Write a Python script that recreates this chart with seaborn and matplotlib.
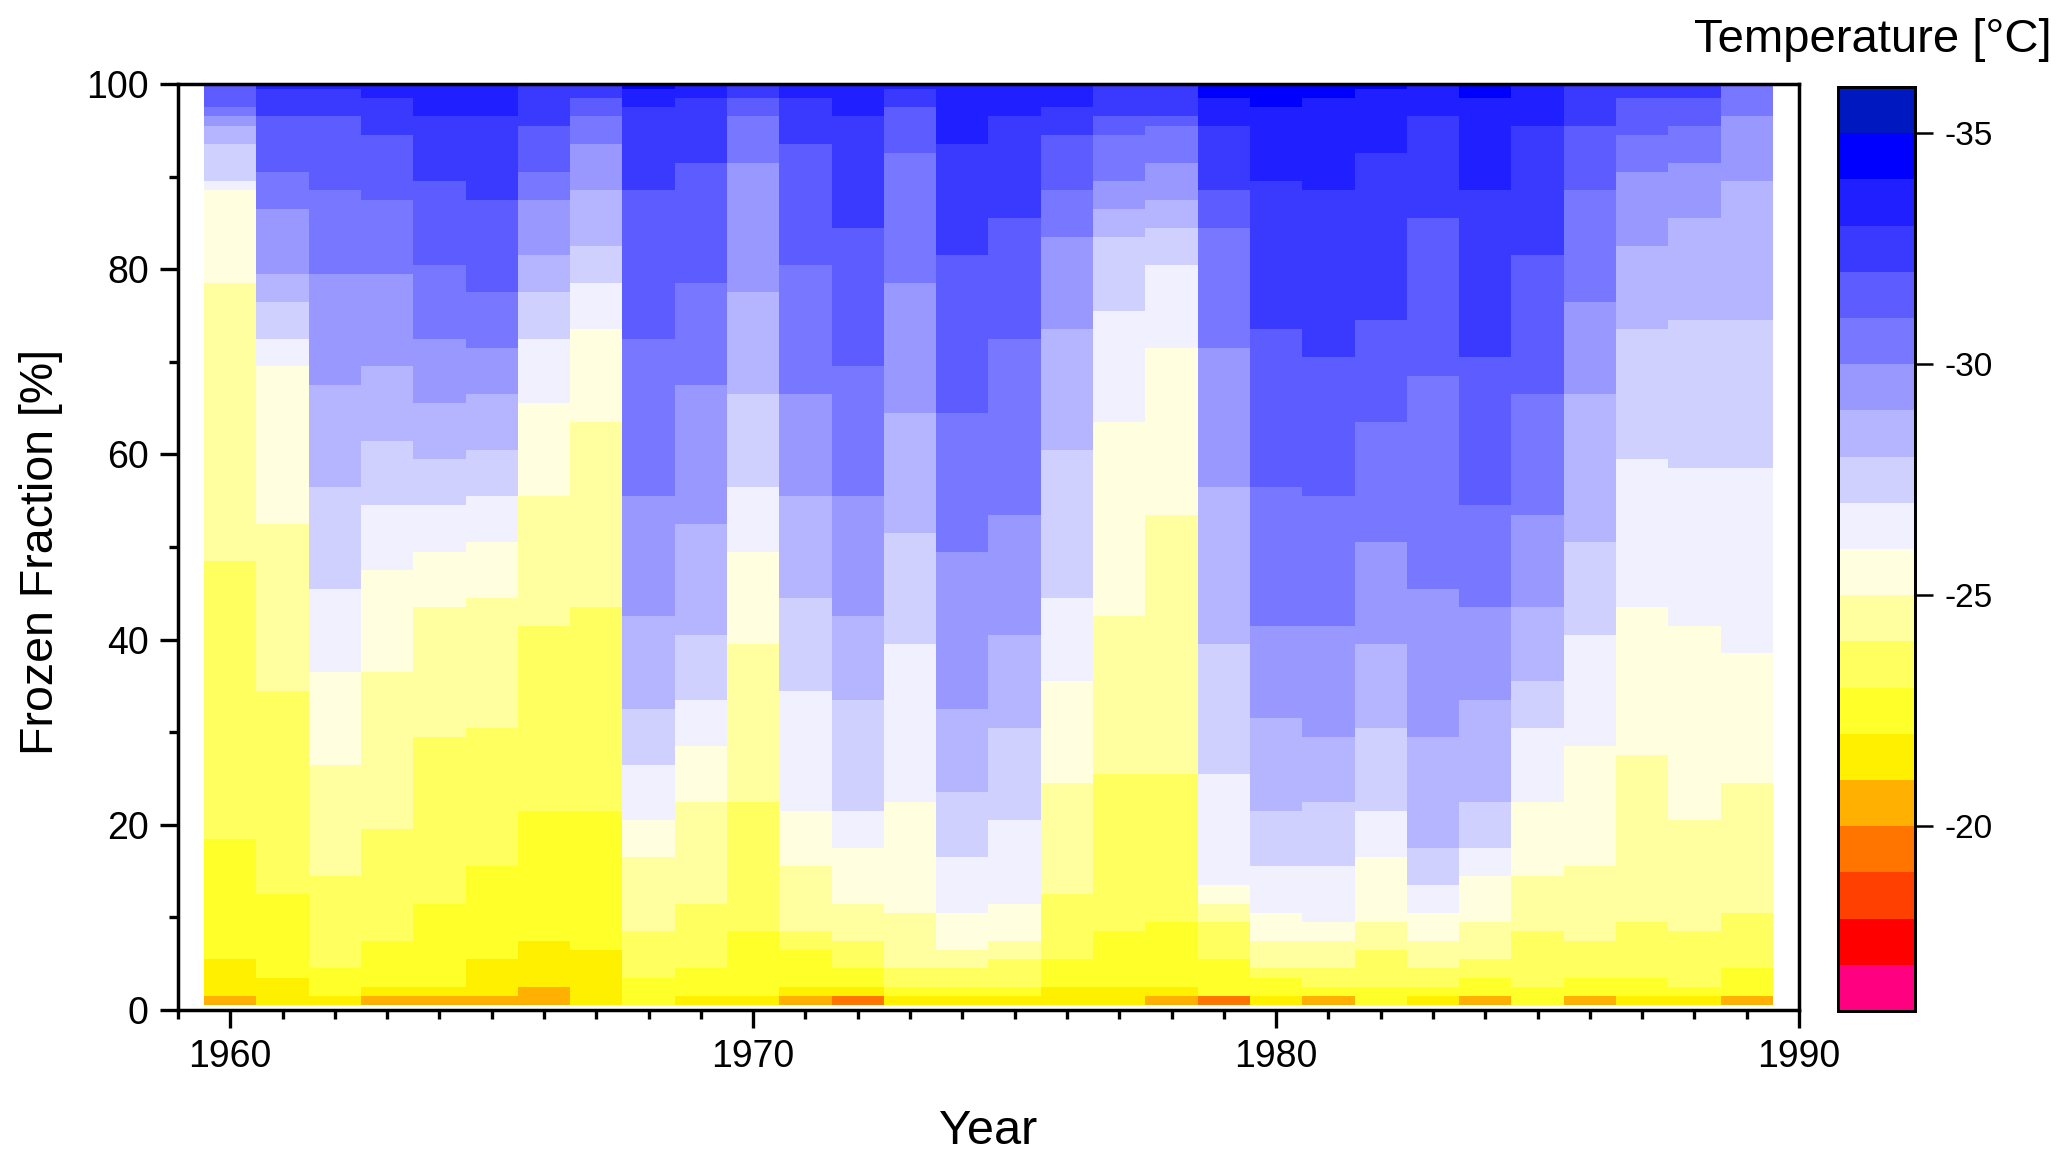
import numpy as np
import pandas as pd
import matplotlib
matplotlib.use('Agg')
import matplotlib.pyplot as plt
from matplotlib.colors import ListedColormap
from matplotlib.ticker import FixedLocator
import seaborn as sns

years = list(range(1960, 1990))
fractions = list(range(1, 101))

# frozen fraction [%] at which each year crosses -35, -34, ... -20 degC
tops_1960 = [100, 100, 100, 100, 97.5, 96.5, 95.5, 93.5, 89.5, 88.5, 78.5, 48.5, 18.5, 5.5, 1.5, 0.5]
tops_1961 = [100, 100, 99.5, 96.5, 90.5, 86.5, 79.5, 76.5, 72.5, 69.5, 52.5, 34.5, 12.5, 3.5, 0.5, 0.5]
tops_1962 = [100, 100, 99.5, 96.5, 88.5, 79.5, 67.5, 56.5, 45.5, 36.5, 26.5, 14.5, 4.5, 1.5, 0.5, 0.5]
tops_1963 = [100, 100, 98.5, 94.5, 87.5, 79.5, 69.5, 61.5, 54.5, 47.5, 36.5, 19.5, 7.5, 2.5, 1.5, 0.5]
tops_1964 = [100, 100, 96.5, 89.5, 80.5, 72.5, 65.5, 59.5, 54.5, 49.5, 43.5, 29.5, 11.5, 2.5, 1.5, 0.5]
tops_1965 = [100, 100, 96.5, 87.5, 77.5, 71.5, 66.5, 60.5, 55.5, 50.5, 44.5, 30.5, 15.5, 5.5, 1.5, 0.5]
tops_1966 = [100, 100, 100, 95.5, 90.5, 87.5, 81.5, 77.5, 72.5, 65.5, 55.5, 41.5, 21.5, 7.5, 2.5, 0.5]
tops_1967 = [100, 100, 100, 98.5, 96.5, 93.5, 88.5, 82.5, 78.5, 73.5, 63.5, 43.5, 21.5, 6.5, 0.5, 0.5]
tops_1968 = [100, 99.5, 97.5, 88.5, 72.5, 55.5, 42.5, 32.5, 26.5, 20.5, 16.5, 8.5, 3.5, 0.5, 0.5, 0.5]
tops_1969 = [100, 100, 98.5, 91.5, 78.5, 67.5, 52.5, 40.5, 33.5, 28.5, 22.5, 11.5, 4.5, 1.5, 0.5, 0.5]
tops_1970 = [100, 100, 100, 98.5, 96.5, 91.5, 77.5, 66.5, 56.5, 49.5, 39.5, 22.5, 8.5, 1.5, 0.5, 0.5]
tops_1971 = [100, 100, 98.5, 93.5, 80.5, 66.5, 55.5, 44.5, 34.5, 21.5, 15.5, 8.5, 6.5, 2.5, 1.5, 0.5]
tops_1972 = [100, 100, 96.5, 84.5, 69.5, 55.5, 42.5, 33.5, 21.5, 17.5, 11.5, 7.5, 4.5, 2.5, 1.5, 1.5]
tops_1973 = [100, 100, 99.5, 97.5, 92.5, 78.5, 64.5, 51.5, 39.5, 22.5, 10.5, 4.5, 2.5, 1.5, 0.5, 0.5]
tops_1974 = [100, 100, 93.5, 81.5, 64.5, 49.5, 32.5, 23.5, 16.5, 10.5, 6.5, 4.5, 2.5, 1.5, 0.5, 0.5]
tops_1975 = [100, 100, 96.5, 85.5, 72.5, 53.5, 40.5, 30.5, 20.5, 11.5, 7.5, 5.5, 2.5, 1.5, 0.5, 0.5]
tops_1976 = [100, 100, 97.5, 94.5, 88.5, 83.5, 73.5, 60.5, 44.5, 35.5, 24.5, 12.5, 5.5, 2.5, 0.5, 0.5]
tops_1977 = [100, 100, 100, 96.5, 94.5, 89.5, 86.5, 83.5, 75.5, 63.5, 42.5, 25.5, 8.5, 2.5, 0.5, 0.5]
tops_1978 = [100, 100, 100, 96.5, 95.5, 91.5, 87.5, 84.5, 80.5, 71.5, 53.5, 25.5, 9.5, 2.5, 1.5, 0.5]
tops_1979 = [100, 98.5, 95.5, 88.5, 84.5, 71.5, 56.5, 39.5, 25.5, 13.5, 11.5, 9.5, 5.5, 1.5, 1.5, 1.5]
tops_1980 = [100, 97.5, 89.5, 73.5, 56.5, 41.5, 31.5, 21.5, 15.5, 10.5, 7.5, 4.5, 3.5, 1.5, 0.5, 0.5]
tops_1981 = [100, 98.5, 88.5, 70.5, 55.5, 41.5, 29.5, 22.5, 15.5, 9.5, 7.5, 4.5, 2.5, 1.5, 1.5, 0.5]
tops_1982 = [100, 99.5, 92.5, 74.5, 63.5, 50.5, 39.5, 30.5, 21.5, 16.5, 9.5, 6.5, 2.5, 0.5, 0.5, 0.5]
tops_1983 = [100, 100, 96.5, 85.5, 68.5, 45.5, 29.5, 17.5, 13.5, 10.5, 7.5, 4.5, 2.5, 1.5, 0.5, 0.5]
tops_1984 = [100, 98.5, 88.5, 70.5, 54.5, 43.5, 33.5, 22.5, 17.5, 14.5, 9.5, 5.5, 3.5, 1.5, 1.5, 0.5]
tops_1985 = [100, 100, 95.5, 81.5, 66.5, 53.5, 43.5, 35.5, 30.5, 22.5, 14.5, 8.5, 2.5, 0.5, 0.5, 0.5]
tops_1986 = [100, 100, 100, 95.5, 88.5, 76.5, 66.5, 50.5, 40.5, 28.5, 15.5, 7.5, 3.5, 1.5, 1.5, 0.5]
tops_1987 = [100, 100, 100, 98.5, 94.5, 90.5, 82.5, 73.5, 59.5, 43.5, 27.5, 9.5, 3.5, 1.5, 0.5, 0.5]
tops_1988 = [100, 100, 100, 98.5, 95.5, 91.5, 85.5, 74.5, 58.5, 41.5, 20.5, 8.5, 2.5, 1.5, 0.5, 0.5]
tops_1989 = [100, 100, 100, 100, 100, 96.5, 89.5, 74.5, 58.5, 38.5, 24.5, 10.5, 4.5, 1.5, 1.5, 0.5]

isotherm_tops = np.array([
    tops_1960, tops_1961, tops_1962, tops_1963, tops_1964, tops_1965,
    tops_1966, tops_1967, tops_1968, tops_1969, tops_1970, tops_1971,
    tops_1972, tops_1973, tops_1974, tops_1975, tops_1976, tops_1977,
    tops_1978, tops_1979, tops_1980, tops_1981, tops_1982, tops_1983,
    tops_1984, tops_1985, tops_1986, tops_1987, tops_1988, tops_1989,
])

# one colour per 1 degC class, -36 (coldest) to -16
class_colors = ['#0018c0', '#0000ff', '#1f1fff', '#3a3aff', '#5c5cff',
                '#7777ff', '#9898ff', '#b5b5ff', '#d0d0ff', '#f0f0ff',
                '#ffffe0', '#ffffa0', '#ffff60', '#ffff2a', '#fff000',
                '#ffb000', '#ff7500', '#ff4000', '#ff0000', '#ff0080']
temp_min = -36
temp_max = -16
cbar_ticks = [-35, -30, -25, -20]

# temperature class of every year / fraction cell
temps = pd.DataFrame(index=fractions, columns=years, dtype=float)
for j, year in enumerate(years):
    for f in fractions:
        temps.loc[f, year] = temp_min + np.sum(isotherm_tops[j] >= f) + 0.5

plt.rcParams['font.family'] = ['Liberation Sans', 'DejaVu Sans']
plt.rcParams['axes.unicode_minus'] = False

W, H = 2067, 1163
fig = plt.figure(figsize=(W / 100, H / 100), dpi=100)
ax = fig.add_axes([178 / W, 1 - 1010 / H, (1799 - 178) / W, (1010 - 84) / H])
cax = fig.add_axes([1838 / W, 1 - 1011 / H, (1915 - 1838) / W, (1011 - 87) / H])

sns.heatmap(temps, ax=ax, cbar_ax=cax, cmap=ListedColormap(class_colors),
            vmin=temp_min, vmax=temp_max, xticklabels=False, yticklabels=False)

# heatmap cells sit on 0..n, so shift the real axis values onto them
ax.set_xlim(-0.5, 30.5)
ax.set_ylim(-0.5, 99.5)
ax.set_xticks([y - 1959.5 for y in [1960, 1970, 1980, 1990]], labels=['1960', '1970', '1980', '1990'])
ax.xaxis.set_minor_locator(FixedLocator([y - 1959.5 for y in range(1959, 1991)]))
ax.set_yticks([v - 0.5 for v in range(0, 101, 20)], labels=[str(v) for v in range(0, 101, 20)])
ax.yaxis.set_minor_locator(FixedLocator([v - 0.5 for v in range(10, 100, 20)]))
ax.tick_params(axis='both', which='major', length=13, width=2.4, labelsize=27, pad=8, rotation=0)
ax.tick_params(axis='both', which='minor', length=6.5, width=2.4)
ax.set_xlabel('Year', fontsize=35, labelpad=24.5)
ax.set_ylabel('Frozen Fraction [%]', fontsize=33.5, labelpad=17, y=0.495)
for spine in ax.spines.values():
    spine.set_visible(True)
    spine.set_linewidth(2.5)
    spine.set_color('black')

cax.invert_yaxis()
cax.set_yticks(cbar_ticks, labels=[str(t) for t in cbar_ticks])
cax.tick_params(axis='y', which='major', length=13, width=1.8, labelsize=24, pad=8)
cax.minorticks_off()
for spine in cax.spines.values():
    spine.set_visible(True)
    spine.set_linewidth(2)
    spine.set_color('black')
fig.text(1873 / W, 1 - 40 / H, 'Temperature [°C]', fontsize=34, ha='center', va='center')

fig.savefig('out.png', dpi=100)
